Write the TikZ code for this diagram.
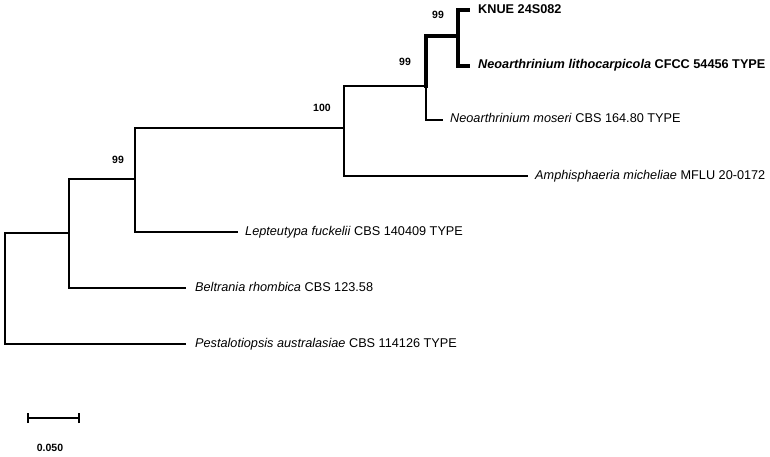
\documentclass[tikz,border=0pt]{standalone}
\usepackage{fontspec}
\setmainfont{Liberation Sans}
\begin{document}
\begin{tikzpicture}[x=1pt,y=-1pt,
  br/.style={line width=1.5pt,line cap=rect},
  thk/.style={line width=3.6pt,line cap=rect},
  taxon/.style={anchor=base west,inner sep=0pt,font=\fontsize{12.7}{14}\selectfont},
  boot/.style={inner sep=0pt,font=\fontsize{10.5}{12}\selectfont\bfseries}]
\useasboundingbox (0,0) rectangle (770,456);
% internal nodes
\coordinate (root) at (5,233);
\coordinate (nA) at (69,233);
\coordinate (nB) at (135,179);
\coordinate (nC) at (344,128);
\coordinate (nD) at (426,86);
\coordinate (nE) at (458,36);
% leaves
\coordinate (knue) at (468,10);
\coordinate (litho) at (468,66);
\coordinate (moseri) at (442,120);
\coordinate (amph) at (527,176);
\coordinate (lept) at (237,232);
\coordinate (belt) at (185,288);
\coordinate (pest) at (185,344);
% branches
\draw[br] (nA) -- (root) |- (pest);
\draw[br] (nB) -| (nA) |- (belt);
\draw[br] (nC) -| (nB) |- (lept);
\draw[br] (nD) -| (nC) |- (amph);
\draw[br] (nD) |- (moseri);
\draw[thk] (nE) -| (nD);
\draw[thk] (knue) -| (nE) |- (litho);
% taxon labels
\node[taxon] (tknue) at ([xshift=10pt,yshift=-3pt]knue) {\bfseries KNUE 24S082};
\node[taxon] (tlitho) at ([xshift=10pt,yshift=-2pt]litho) {\bfseries\itshape Neoarthrinium lithocarpicola\/\upshape{} CFCC 54456 TYPE};
\node[taxon] (tmoseri) at ([xshift=8pt,yshift=-2pt]moseri) {\itshape Neoarthrinium moseri\/\upshape{} CBS 164.80 TYPE};
\node[taxon] (tamph) at ([xshift=8pt,yshift=-3pt]amph) {\itshape Amphisphaeria micheliae\/\upshape{} MFLU 20-0172};
\node[taxon] (tlept) at ([xshift=8pt,yshift=-3pt]lept) {\itshape Lepteutypa fuckelii\/\upshape{} CBS 140409 TYPE};
\node[taxon] (tbelt) at ([xshift=10pt,yshift=-3pt]belt) {\itshape Beltrania rhombica\/\upshape{} CBS 123.58};
\node[taxon] (tpest) at ([xshift=10pt,yshift=-3pt]pest) {\itshape Pestalotiopsis australasiae\/\upshape{} CBS 114126 TYPE};
% bootstrap values
\node[boot] (bE) at (438,15) {99};
\node[boot] (bD) at (405,62) {99};
\node[boot] (bC) at (322,108) {100};
\node[boot] (bB) at (118,160) {99};
% scale bar
\coordinate (s1) at (28,418);
\coordinate (s2) at (79,418);
\draw[line width=1.5pt] (s1) -- (s2);
\draw[line width=1.5pt] ([yshift=-5pt]s1) -- ([yshift=5pt]s1);
\draw[line width=1.5pt] ([yshift=-5pt]s2) -- ([yshift=5pt]s2);
\node[boot] (sl) at (50,448) {0.050};
\end{tikzpicture}
\end{document}
